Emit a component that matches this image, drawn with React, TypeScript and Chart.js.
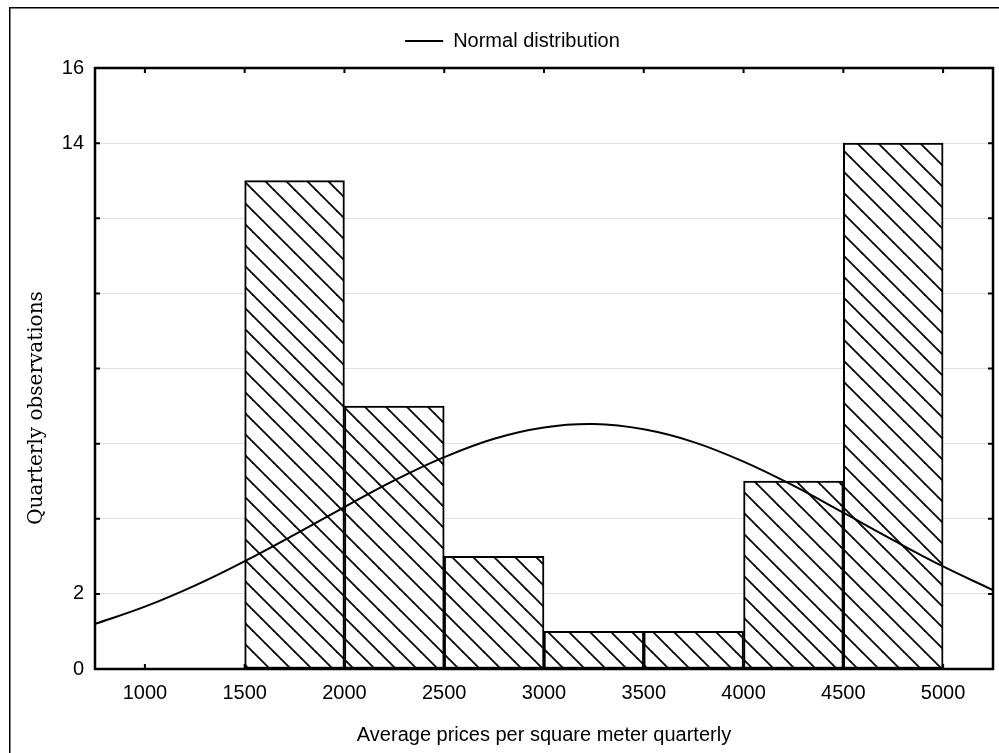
import React, { useEffect, useRef } from "react";
import { Chart, registerables } from "chart.js";

Chart.register(...registerables);

// ---- data ----
const binCenters = [1750, 2250, 2750, 3250, 3750, 4250, 4750];
const binCounts = [13, 7, 3, 1, 1, 5, 14];

const curveX = [750, 1000, 1250, 1500, 1750, 2000, 2250, 2500, 2750, 3000, 3250, 3500, 3750, 4000, 4250, 4500, 4750, 5000, 5250];
const curveY = [1.2, 1.66, 2.22, 2.87, 3.58, 4.31, 5.02, 5.64, 6.13, 6.43, 6.52, 6.38, 6.04, 5.52, 4.88, 4.16, 3.43, 2.73, 2.1];

const xTickValues = [1000, 1500, 2000, 2500, 3000, 3500, 4000, 4500, 5000];
const yTickValues = [0, 2, 4, 6, 8, 10, 12, 14, 16];
const yLabelValues = [0, 2, 14, 16];

const curveLabel = "Normal distribution";
const barLabel = "Histogram";
const xTitle = "Average prices per square meter quarterly";
const yTitle = "Quarterly observations";

const SANS = "'Liberation Sans', Arial, sans-serif";

function makeHatch(): CanvasPattern | string {
  const s = 21;
  const c = document.createElement("canvas");
  c.width = s;
  c.height = s;
  const g = c.getContext("2d");
  if (!g) return "#fff";
  g.fillStyle = "#fff";
  g.fillRect(0, 0, s, s);
  g.strokeStyle = "#000";
  g.lineWidth = 1.8;
  for (const o of [-s, 0, s]) {
    g.beginPath();
    g.moveTo(o - 1, -1);
    g.lineTo(o + s + 1, s + 1);
    g.stroke();
  }
  return g.createPattern(c, "repeat") || "#fff";
}

const decorPlugin = {
  id: "decor",
  afterDraw(chart: any) {
    const { ctx, chartArea } = chart;
    const { left, right, top, bottom } = chartArea;
    const xs = chart.scales.x;
    const ys = chart.scales.y;
    ctx.save();
    ctx.strokeStyle = "#000";
    ctx.lineWidth = 2;
    const tl = 5;
    ctx.beginPath();
    for (const v of yTickValues) {
      const y = ys.getPixelForValue(v);
      ctx.moveTo(left, y);
      ctx.lineTo(left + tl, y);
      ctx.moveTo(right, y);
      ctx.lineTo(right - tl, y);
    }
    for (const v of xTickValues) {
      const x = xs.getPixelForValue(v);
      ctx.moveTo(x, top);
      ctx.lineTo(x, top + tl);
      ctx.moveTo(x, bottom);
      ctx.lineTo(x, bottom - tl);
    }
    ctx.stroke();
    ctx.lineWidth = 2.5;
    ctx.strokeRect(left, top, right - left, bottom - top);
    // outer frame
    ctx.lineWidth = 1.5;
    ctx.beginPath();
    ctx.moveTo(9.75, chart.height);
    ctx.lineTo(9.75, 7.75);
    ctx.lineTo(chart.width, 7.75);
    ctx.stroke();
    // y title
    ctx.translate(37, 408);
    ctx.rotate(-Math.PI / 2);
    ctx.fillStyle = "#000";
    ctx.font = "20px 'DejaVu Serif', serif";
    ctx.textAlign = "center";
    ctx.textBaseline = "middle";
    ctx.fillText(yTitle, 0, 0);
    ctx.restore();
  },
};

export default function App() {
  const ref = useRef<HTMLCanvasElement | null>(null);
  useEffect(() => {
    document.body.style.margin = "0";
    const canvas = ref.current;
    if (!canvas) return;
    const hatch = makeHatch();
    const chart = new Chart(canvas, {
      type: "bar",
      data: {
        datasets: [
          {
            type: "line",
            label: curveLabel,
            data: curveX.map((x, i) => ({ x, y: curveY[i] })),
            borderColor: "#000",
            backgroundColor: "#000",
            borderWidth: 2,
            pointRadius: 0,
            tension: 0.4,
            fill: false,
            order: 1,
          } as any,
          {
            type: "bar",
            label: barLabel,
            data: binCenters.map((x, i) => ({ x, y: binCounts[i] })),
            backgroundColor: hatch as any,
            borderColor: "#000",
            borderWidth: 2,
            borderSkipped: false,
            barPercentage: 1,
            categoryPercentage: 1,
            grouped: false,
            order: 2,
          } as any,
        ],
      },
      options: {
        animation: false,
        responsive: false,
        events: [],
        layout: { padding: { top: 21, left: 32, right: 6, bottom: 0 } },
        plugins: {
          tooltip: { enabled: false },
          legend: {
            display: true,
            position: "top",
            labels: {
              filter: (item: any) => item.text === curveLabel,
              usePointStyle: true,
              pointStyle: "line",
              pointStyleWidth: 38,
              color: "#000",
              padding: 10,
              font: { family: SANS, size: 20 },
            },
          },
        },
        scales: {
          x: {
            type: "linear",
            min: 750,
            max: 5250,
            offset: false,
            afterBuildTicks: (s: any) => {
              s.ticks = xTickValues.map((v) => ({ value: v }));
            },
            afterFit: (s: any) => {
              s.height = 84;
            },
            ticks: {
              color: "#000",
              font: { family: SANS, size: 20 },
              padding: 12,
              maxRotation: 0,
              autoSkip: false,
              callback: (v: any) => String(v),
            },
            grid: { display: false, drawTicks: false },
            border: { display: false },
            title: {
              display: true,
              text: xTitle,
              color: "#000",
              font: { family: SANS, size: 20 },
              padding: { top: 0, bottom: 6 },
            },
          },
          xTop: {
            type: "linear",
            position: "top",
            display: true,
            afterFit: (s: any) => {
              s.height = 7;
            },
            ticks: { display: false },
            grid: { display: false, drawTicks: false },
            border: { display: false },
          },
          y: {
            type: "linear",
            min: 0,
            max: 16,
            afterBuildTicks: (s: any) => {
              s.ticks = yTickValues.map((v) => ({ value: v }));
            },
            afterFit: (s: any) => {
              s.width = 63;
            },
            ticks: {
              color: "#000",
              font: { family: SANS, size: 20 },
              padding: 11,
              autoSkip: false,
              callback: (v: any) => (yLabelValues.includes(Number(v)) ? String(v) : ""),
            },
            grid: { color: "#e2e2e2", lineWidth: 1, drawTicks: false },
            border: { display: false },
          },
        },
      } as any,
      plugins: [decorPlugin],
    });
    return () => chart.destroy();
  }, []);
  return (
    <canvas ref={ref} width={999} height={753} style={{ display: "block", width: 999, height: 753 }} />
  );
}
